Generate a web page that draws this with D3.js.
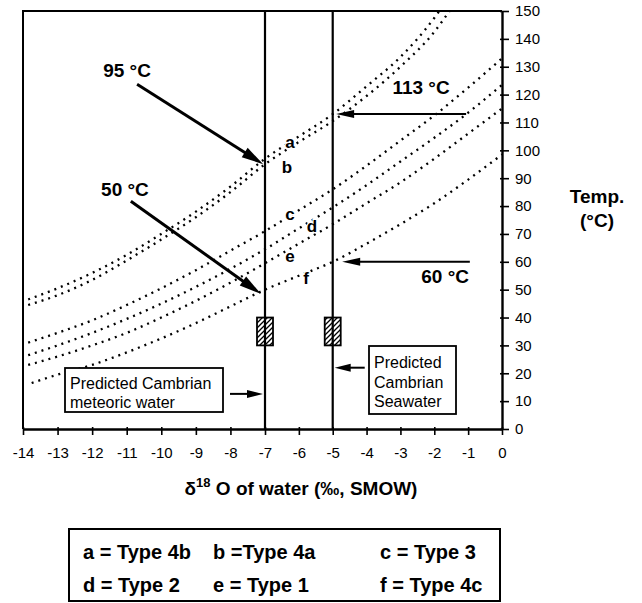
<!DOCTYPE html>
<html>
<head>
<meta charset="utf-8">
<script src="https://cdn.jsdelivr.net/npm/d3@7"></script>
<style>
  html, body { margin: 0; padding: 0; background: #fff; }
  svg { display: block; font-family: "Liberation Sans", Arial, Helvetica, sans-serif; }
</style>
</head>
<body>
<svg id="chart" width="642" height="603"></svg>
<script>
// Axis ticks
const deltaTicks = [-14, -13, -12, -11, -10, -9, -8, -7, -6, -5, -4, -3, -2, -1, 0];
const deltaTickLabels = ["-14", "-13", "-12", "-11", "-10", "-9", "-8", "-7", "-6", "-5", "-4", "-3", "-2", "-1", "0"];
const tempTicks = [0, 10, 20, 30, 40, 50, 60, 70, 80, 90, 100, 110, 120, 130, 140, 150];

// Calcite–water equilibrium curves: δ18O of water (‰) vs temperature (°C)
const curveIds = ["a", "b", "c", "d", "e", "f"];
const deltaA = [-13.85, -13, -12, -11, -10, -9, -8, -7, -6, -5, -4, -3, -2, -1.85];
const tempA  = [46.5, 50.5, 56, 62.5, 70, 78, 87, 97, 105, 113, 123, 133.5, 147.5, 150];
const deltaB = [-13.85, -13, -12, -11, -10, -9, -8, -7, -6, -5, -4, -3, -2, -1.55];
const tempB  = [44.5, 48, 53.5, 60.5, 68, 76, 85, 95, 103, 110.5, 119.5, 130, 142.5, 150];
const deltaC = [-13.85, -13, -12, -11, -10, -9, -8, -7, -6, -5, -4, -3, -2, -1, 0];
const tempC  = [31, 34.5, 39, 44.5, 50.5, 57, 64, 71, 78.5, 86, 94.5, 103.5, 112.5, 122.5, 133];
const deltaD = [-13.85, -13, -12, -11, -10, -9, -8, -7, -6, -5, -4, -3, -2, -1, 0];
const tempD  = [26.5, 30, 34.5, 39.5, 45, 51, 57.5, 64.5, 72, 79.5, 87.5, 96, 104.5, 113.5, 123.5];
const deltaE = [-13.85, -13, -12, -11, -10, -9, -8, -7, -6, -5, -4, -3, -2, -1, 0];
const tempE  = [23, 26, 30, 34.5, 40, 46, 52.5, 59.5, 66.5, 73.5, 81, 88.5, 97, 106, 115];
const deltaF = [-13.75, -13, -12, -11, -10, -9, -8, -7, -6, -5, -4, -3, -2, -1, 0];
const tempF  = [16.5, 19.5, 23, 27.5, 32.5, 38, 44, 50, 55, 60, 66.5, 73.5, 81, 89.5, 98.5];

// Predicted Cambrian water compositions and the temperature band (hatched)
const waterDelta = [-7, -5];
const bandTemp = [30, 40];

// Legend
const legendRows = [
  ["a = Type 4b", "b =Type 4a", "c = Type 3"],
  ["d = Type 2", "e = Type 1", "f = Type 4c"]
];

const curveData = [
  [deltaA, tempA], [deltaB, tempB], [deltaC, tempC],
  [deltaD, tempD], [deltaE, tempE], [deltaF, tempF]
].map(([dx, ty], i) => ({ id: curveIds[i], pts: dx.map((d, j) => [d, ty[j]]) }));

const svg = d3.select("#chart");
svg.append("rect").attr("width", 642).attr("height", 603).attr("fill", "#fff");

const x = d3.scaleLinear().domain([-14, -7, 0]).range([23, 265, 502]);
const y = d3.scaleLinear().domain([0, 150]).range([429, 11]);

const defs = svg.append("defs");
defs.append("clipPath").attr("id", "plotClip")
  .append("rect").attr("x", x(-14)).attr("y", y(150)).attr("width", x(0) - x(-14)).attr("height", y(0) - y(150));
const hatch = defs.append("pattern").attr("id", "hatch")
  .attr("patternUnits", "userSpaceOnUse").attr("width", 5).attr("height", 5);
hatch.append("path").attr("d", "M-1,1 l2,-2 M0,5 l5,-5 M4,6 l2,-2")
  .attr("stroke", "#000").attr("stroke-width", 1.3);

// Dotted curves
const line = d3.line().x(d => x(d[0])).y(d => y(d[1])).curve(d3.curveMonotoneX);
svg.append("g").attr("clip-path", "url(#plotClip)")
  .selectAll("path").data(curveData).join("path")
  .attr("d", d => line(d.pts))
  .attr("fill", "none").attr("stroke", "#000")
  .attr("stroke-width", 2.3).attr("stroke-dasharray", "2 5");

// Vertical lines for predicted water compositions
svg.append("g").selectAll("line").data(waterDelta).join("line")
  .attr("x1", d => x(d)).attr("x2", d => x(d))
  .attr("y1", y(150)).attr("y2", y(0))
  .attr("stroke", "#000").attr("stroke-width", 2.2);

// Hatched temperature bands
svg.append("g").selectAll("rect").data(waterDelta).join("rect")
  .attr("x", d => x(d) - 8).attr("width", 16)
  .attr("y", y(bandTemp[1])).attr("height", y(bandTemp[0]) - y(bandTemp[1]))
  .attr("fill", "url(#hatch)").attr("stroke", "#000").attr("stroke-width", 1.8);

// Frame: top and left edges
svg.append("path")
  .attr("d", `M${x(-14)},${y(0)}V${y(150)}H${x(0)}`)
  .attr("fill", "none").attr("stroke", "#000").attr("stroke-width", 2);

// Bottom axis
const xAxis = svg.append("g").attr("transform", `translate(0,${y(0)})`)
  .call(d3.axisBottom(x).tickValues(deltaTicks)
    .tickFormat((d, i) => deltaTickLabels[i])
    .tickSizeInner(6).tickSizeOuter(0).tickPadding(12));
xAxis.select(".domain").attr("stroke-width", 2.4);
xAxis.selectAll(".tick line").attr("y1", -2).attr("stroke-width", 1.6);
xAxis.selectAll("text").attr("font-size", 15).attr("font-family", "Liberation Sans, Arial, sans-serif").attr("fill", "#000");

// Right axis
const yAxis = svg.append("g").attr("transform", `translate(${x(0)},0)`)
  .call(d3.axisRight(y).tickValues(tempTicks)
    .tickSizeInner(7).tickSizeOuter(0).tickPadding(6));
yAxis.select(".domain").attr("stroke-width", 2.4);
yAxis.selectAll(".tick line").attr("x1", -2).attr("stroke-width", 1.6);
yAxis.selectAll("text").attr("font-size", 15).attr("font-family", "Liberation Sans, Arial, sans-serif").attr("fill", "#000");

// Curve letters
const curveLabels = [
  { t: "a", d: -6.26, T: 102.9 }, { t: "b", d: -6.35, T: 93.9 },
  { t: "c", d: -6.26, T: 77 },    { t: "d", d: -5.61, T: 72.7 },
  { t: "e", d: -6.26, T: 62.2 },  { t: "f", d: -5.79, T: 54.3 }
];
svg.append("g").selectAll("text").data(curveLabels).join("text")
  .attr("x", d => x(d.d)).attr("y", d => y(d.T)).attr("dy", "0.35em")
  .attr("text-anchor", "middle").attr("font-size", 17).attr("font-weight", "bold")
  .attr("stroke", "#fff").attr("stroke-width", 2.5).attr("paint-order", "stroke")
  .text(d => d.t);

// Arrows
function arrow(x1, y1, x2, y2, w, hl, hw) {
  const dx = x2 - x1, dy = y2 - y1, L = Math.hypot(dx, dy), ux = dx / L, uy = dy / L;
  const bx = x2 - ux * hl, by = y2 - uy * hl;
  svg.append("line").attr("x1", x1).attr("y1", y1).attr("x2", bx + ux * 2).attr("y2", by + uy * 2)
    .attr("stroke", "#000").attr("stroke-width", w);
  svg.append("path")
    .attr("d", `M${x2},${y2}L${bx - uy * hw / 2},${by + ux * hw / 2}L${bx + uy * hw / 2},${by - ux * hw / 2}Z`)
    .attr("fill", "#000");
}
arrow(x(-10.7), y(123.7), x(-7.05), y(95), 3, 22, 11);
arrow(x(-10.88), y(81.7), x(-7.12), y(48.5), 3, 22, 11);
arrow(x(-1.06), y(113), x(-4.9), y(113), 2, 18, 8);
arrow(x(-0.95), y(60), x(-4.72), y(60), 2, 18, 8);
arrow(x(-7) - 35, y(12.6), x(-7) - 2, y(12.6), 2, 16, 8);
arrow(x(-5) + 32, y(22), x(-5) + 2, y(22), 2, 16, 8);

// Temperature call-outs
const callouts = [
  { t: "95 °C", d: -10.99, T: 128.8 },
  { t: "50 °C", d: -11.05, T: 86 },
  { t: "113 °C", d: -2.39, T: 122.7 },
  { t: "60 °C", d: -1.68, T: 55 }
];
svg.append("g").selectAll("text").data(callouts).join("text")
  .attr("x", d => x(d.d)).attr("y", d => y(d.T)).attr("dy", "0.36em")
  .attr("text-anchor", "middle").attr("font-size", 19).attr("font-weight", "bold")
  .text(d => d.t);

// Annotation boxes
function noteBox(bx, by, bw, bh, lines, tx, ty, lh) {
  svg.append("rect").attr("x", bx).attr("y", by).attr("width", bw).attr("height", bh)
    .attr("fill", "#fff").attr("stroke", "#000").attr("stroke-width", 1.8);
  const t = svg.append("text").attr("font-size", 16);
  lines.forEach((s, i) => t.append("tspan").attr("x", tx).attr("y", ty + i * lh).text(s));
}
noteBox(65, 368, 158, 44, ["Predicted Cambrian", "meteoric water"], 70, 389, 19);
noteBox(369, 346, 87, 68, ["Predicted", "Cambrian", "Seawater"], 374, 368, 19.5);

// Axis titles
const xt = svg.append("text").attr("x", 301).attr("y", 495)
  .attr("text-anchor", "middle").attr("font-size", 19).attr("font-weight", "bold");
xt.append("tspan").text("δ");
xt.append("tspan").attr("font-size", 13).attr("dy", -8).text("18");
xt.append("tspan").attr("dy", 8).text(" O of water (‰, SMOW)");

svg.append("text").attr("x", 597).attr("y", 196).attr("dy", "0.36em")
  .attr("text-anchor", "middle").attr("font-size", 19).attr("font-weight", "bold").text("Temp.");
svg.append("text").attr("x", 597).attr("y", 220).attr("dy", "0.36em")
  .attr("text-anchor", "middle").attr("font-size", 19).attr("font-weight", "bold").text("(°C)");

// Legend box
svg.append("rect").attr("x", 69).attr("y", 529).attr("width", 431).attr("height", 72)
  .attr("fill", "#fff").attr("stroke", "#000").attr("stroke-width", 2);
const colX = [83, 213, 380];
const rowY = [559, 592];
legendRows.forEach((row, r) => row.forEach((s, c) => {
  svg.append("text").attr("x", colX[c]).attr("y", rowY[r])
    .attr("font-size", 20).attr("font-weight", "bold").text(s);
}));
</script>
</body>
</html>
